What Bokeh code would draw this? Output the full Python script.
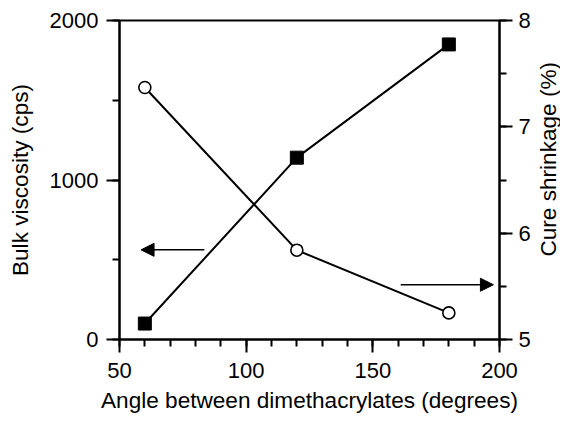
import math
from bokeh.plotting import figure
from bokeh.layouts import row
from bokeh.models import Range1d, LinearAxis, SingleIntervalTicker, Arrow, NormalHead
from bokeh.embed import file_html
from bokeh.resources import INLINE

# ---- data ----
angle = [60, 120, 180]
viscosity = [100, 1140, 1850]          # Bulk viscosity (cps), left axis, filled squares
shrinkage = [7.37, 5.84, 5.25]         # Cure shrinkage (%), right axis, open circles

x_range = (50, 200)
visc_range = (0, 2000)
shrink_range = (5, 8)

x_title = "Angle between dimethacrylates (degrees)"
left_title = "Bulk viscosity (cps)"
right_title = "Cure shrinkage (%)"

left_arrow_x = [83.5, 58.5]            # start, end (points to left axis)
left_arrow_y = 562
right_arrow_x = [161, 197.6]           # start, end (points to right axis)
right_arrow_y = 5.515

FONT = "Liberation Sans"
TICK_FS = "22px"
TITLE_FS = "22.6px"

# layout (pixels)
H = 415
MAIN_W = 533
TITLE_W = 27
B_LEFT, B_RIGHT, B_TOP, B_BOTTOM = 119, 32, 20, 74

p = figure(width=MAIN_W, height=H, output_backend="svg", toolbar_location=None,
           x_range=Range1d(*x_range), y_range=Range1d(*visc_range),
           min_border_left=B_LEFT, min_border_right=B_RIGHT,
           min_border_top=B_TOP, min_border_bottom=B_BOTTOM)
p.extra_y_ranges = {"right": Range1d(*shrink_range)}
p.xgrid.visible = False
p.ygrid.visible = False
p.outline_line_color = "black"
p.outline_line_width = 2
p.background_fill_color = "white"
p.border_fill_color = "white"

def style(ax):
    ax.axis_line_color = "black"
    ax.axis_line_width = 2
    ax.major_tick_line_color = "black"
    ax.major_tick_line_width = 2
    ax.minor_tick_line_color = "black"
    ax.minor_tick_line_width = 2
    ax.major_tick_in = 0
    ax.major_tick_out = 13
    ax.minor_tick_in = 0
    ax.minor_tick_out = 7
    ax.major_label_text_font = FONT
    ax.major_label_text_font_size = TICK_FS
    ax.major_label_text_color = "black"
    ax.axis_label_text_font = FONT
    ax.axis_label_text_font_size = TITLE_FS
    ax.axis_label_text_font_style = "normal"
    ax.axis_label_text_color = "black"

xa = p.xaxis[0]
xa.ticker = SingleIntervalTicker(interval=50, num_minor_ticks=5)
xa.axis_label = x_title
style(xa)
xa.major_label_standoff = 10
xa.axis_label_standoff = 7

ya = p.yaxis[0]
ya.ticker = SingleIntervalTicker(interval=1000, num_minor_ticks=2)
ya.axis_label = left_title
style(ya)
ya.major_label_standoff = 8
ya.axis_label_standoff = 14

ra = LinearAxis(y_range_name="right",
                ticker=SingleIntervalTicker(interval=1, num_minor_ticks=2))
style(ra)
ra.major_label_standoff = 6
p.add_layout(ra, "right")

# series
p.line(angle, viscosity, line_color="black", line_width=2)
p.scatter(angle, viscosity, marker="square", size=13, fill_color="black", line_color="black")
p.line(angle, shrinkage, y_range_name="right", line_color="black", line_width=2)
p.scatter(angle, shrinkage, y_range_name="right", marker="circle", size=12,
          fill_color="white", line_color="black", line_width=1.6)

# arrows
p.add_layout(Arrow(end=NormalHead(size=13, fill_color="black", line_color="black"),
                   x_start=left_arrow_x[0], x_end=left_arrow_x[1],
                   y_start=left_arrow_y, y_end=left_arrow_y,
                   line_color="black", line_width=1.5))
p.add_layout(Arrow(end=NormalHead(size=13, fill_color="black", line_color="black"),
                   x_start=right_arrow_x[0], x_end=right_arrow_x[1],
                   y_start=right_arrow_y, y_end=right_arrow_y, y_range_name="right",
                   line_color="black", line_width=1.5))

# right-hand axis title in a narrow strip (reads bottom-to-top like the reference)
t = figure(width=TITLE_W, height=H, output_backend="svg", toolbar_location=None,
           x_range=Range1d(0, TITLE_W), y_range=Range1d(0, H), min_border=0)
t.axis.visible = False
t.grid.visible = False
t.outline_line_color = None
t.background_fill_color = "white"
t.border_fill_color = "white"
frame_mid = H - (B_TOP + (H - B_TOP - B_BOTTOM) / 2)
t.text(x=[TITLE_W / 2 + 1], y=[frame_mid], text=[right_title], angle=math.pi / 2,
       text_align="center", text_baseline="middle", text_color="black",
       text_font={"value": FONT}, text_font_size={"value": TITLE_FS})

layout = row(p, t, spacing=0)
open("out.html", "w").write(file_html(layout, INLINE))
